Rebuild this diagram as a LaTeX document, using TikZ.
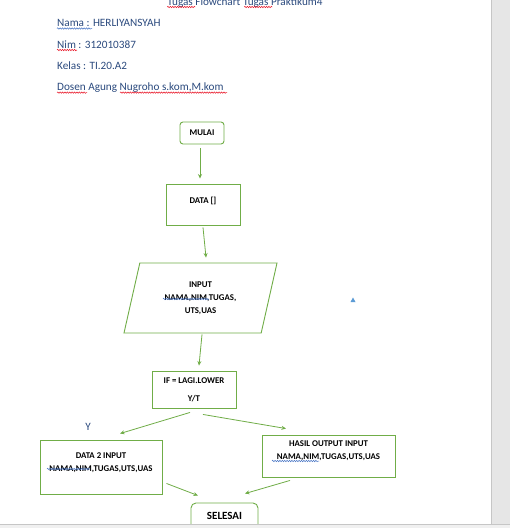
\documentclass[tikz,border=0pt]{standalone}
\usepackage{fontspec}
\setmainfont{Carlito}
\usetikzlibrary{arrows.meta,calc,shapes.geometric,decorations.pathmorphing}
\definecolor{boxgreen}{HTML}{70AD47}
\definecolor{wordblue}{HTML}{2B4A7E}
\definecolor{squigred}{HTML}{E81123}
\definecolor{squigblue}{HTML}{4472C4}
\definecolor{anchorblue}{HTML}{5B9BD5}
\definecolor{panegray}{HTML}{E6E6E6}
\definecolor{bargray}{HTML}{F0F0F0}
\definecolor{edgegray}{HTML}{C6C6C6}
\begin{document}
\begin{tikzpicture}[x=1pt,y=-1pt,
    box/.style={draw=boxgreen,line width=0.9pt,inner sep=0pt},
    flow/.style={draw=boxgreen,line width=0.8pt,-{Stealth[length=4.5pt,width=4pt]}},
    lbl/.style={font=\fontsize{8.8}{13}\selectfont\bfseries,align=center,inner sep=0pt},
    head/.style={anchor=base west,text=wordblue,font=\fontsize{11.2}{13}\selectfont,inner sep=0pt},
    squig/.style={line width=0.5pt,decorate,decoration={snake,amplitude=0.7pt,segment length=2.4pt}}]
  \useasboundingbox (0,0) rectangle (510,528);
  \fill[white] (0,0) rectangle (510,528);
  \node[head,anchor=base] (judul) at (245,5) {Tugas Flowchart Tugas Praktikum4};
  \node[head] (nama) at (57,26.5) {Nama : HERLIYANSYAH};
  \node[head] (nim) at (57,48) {Nim : 312010387};
  \node[head] (kelas) at (57,69.3) {Kelas : TI.20.A2};
  \node[head] (dosen) at (57,90.6) {Dosen Agung Nugroho s.kom,M.kom};
  \draw[squig,squigred] ($(judul.base west)+(0,2)$) -- ++(28,0);
  \draw[squig,squigred] ($(judul.base west)+(77,2)$) -- ++(28,0);
  \draw[squig,squigblue] ($(nama.base west)+(0,2)$) -- ++(35,0);
  \draw[squig,squigred] ($(nim.base west)+(0,2)$) -- ++(20,0);
  \draw[squig,squigred] ($(dosen.base west)+(0,2)$) -- ++(30,0);
  \draw[squig,squigred] ($(dosen.base west)+(63,2)$) -- ++(107,0);

  \node[box,rounded corners=3pt,minimum width=44pt,minimum height=22pt,lbl] (mulai) at (202,133) {MULAI};
  \node[box,minimum width=74pt,minimum height=41pt,label={[lbl,yshift=3.5pt]center:{DATA []}}] (data) at (203,204.5) {};
  \node[box,lbl,inner sep=2pt,trapezium,trapezium left angle=66.8,trapezium right angle=113.2,trapezium stretches body=true,minimum width=153pt,minimum height=70pt] (input) at (200.5,298) {INPUT\\NAMA,NIM,TUGAS,\\UTS,UAS};
  \node[box,minimum width=84pt,minimum height=37pt,lbl] (if) at (194,389.5) {IF = LAGI.LOWER\\[5pt]Y/T};
  \node[box,minimum width=122pt,minimum height=54pt,label={[lbl,yshift=4pt]center:{DATA 2 INPUT\\NAMA,NIM,TUGAS,UTS,UAS}}] (data2) at (101,467) {};
  \node[box,minimum width=133pt,minimum height=42pt,label={[lbl,yshift=5.5pt]center:{HASIL OUTPUT INPUT\\NAMA,NIM,TUGAS,UTS,UAS}}] (hasil) at (328.5,456) {};
  \node[box,rounded corners=5pt,minimum width=67pt,minimum height=26pt,lbl,font=\fontsize{11}{13}\selectfont\bfseries] (selesai) at (224.5,516) {SELESAI};
  \node[text=wordblue,font=\fontsize{11.2}{13}\selectfont,inner sep=0pt] (ya) at (88,427) {Y};
  \fill[anchorblue] (350.5,302) -- (355.5,302) -- (353,297.5) -- cycle;

  \draw[squig,squigblue] ($(input.center)+(-37.5,1)$) -- ++(46,0);
  \draw[squig,squigblue] ($(data2.center)+(-54,2)$) -- ++(43,0);
  \draw[squig,squigblue] ($(hasil.center)+(-56.5,5)$) -- ++(47,0);

  \draw[flow] ($(mulai.south)+(-2,4)$) -- ($(data.north)+(-3,-5)$);
  \draw[flow] ($(data.south)+(0,2)$) -- ($(input.north)+(5.5,-5)$);
  \draw[flow] ($(input.south)+(1.5,1)$) -- ($(if.north)+(5,-5)$);
  \draw[flow] ($(if.south)+(-4,4)$) -- ($(data2.north)+(19,-6)$);
  \draw[flow] ($(if.south)+(9,6)$) -- ($(hasil.north)+(-42.5,-6)$);
  \draw[flow] ($(data2.south east)+(4,-11)$) -- ($(selesai.north)+(-26.5,-7)$);
  \draw[flow] ($(hasil.south)+(-38.5,3)$) -- ($(selesai.north)+(20.5,-9)$);

  \fill[panegray] (491.3,0) rectangle (510,524);
  \draw[edgegray] (491.3,0) -- (491.3,524);
  \fill[bargray] (0,524) rectangle (510,528);
  \draw[edgegray] (0,524) -- (510,524);
\end{tikzpicture}
\end{document}
